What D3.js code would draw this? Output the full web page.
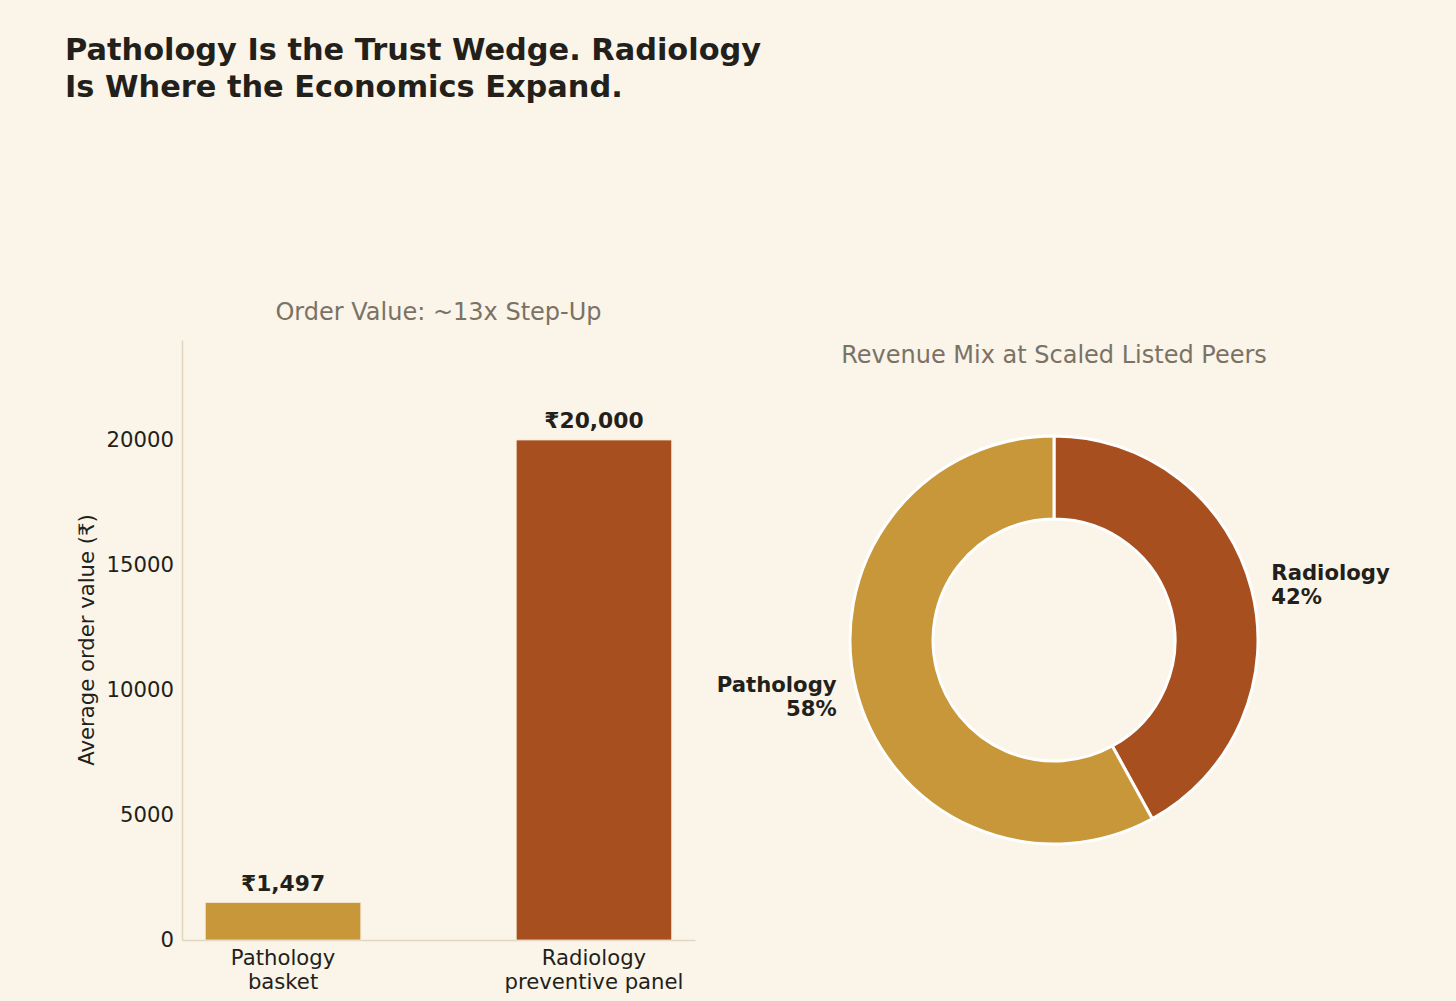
<!DOCTYPE html>
<html>
<head>
<meta charset="utf-8">
<script src="https://cdn.jsdelivr.net/npm/d3@7"></script>
<style>
  html, body { margin: 0; padding: 0; background: #faf4e9; }
  svg { display: block; font-family: "DejaVu Sans", sans-serif; }
</style>
</head>
<body>
<svg id="chart" width="1456" height="1001"></svg>
<script>
// bar chart data
var barCategories = ['Pathology\nbasket', 'Radiology\npreventive panel'];
var barValues = [1497, 20000];
var barLabels = ['₹1,497', '₹20,000'];
var yTicks = [0, 5000, 10000, 15000, 20000];

// donut data (drawn clockwise from 12 o'clock)
var mixNames = ['Radiology', 'Pathology'];
var mixShares = [42, 58];

var colors = ['#c8973a', '#a84f1f'];
var mixColors = ['#a84f1f', '#c8973a'];

var svg = d3.select('#chart');
var ink = '#231f1a';
var grey = '#7a7265';
var axisColor = '#e2d6c2';
var fs = 21.2;

// title
svg.append('text')
  .attr('x', 65).attr('y', 60)
  .attr('font-size', 30.4).attr('font-weight', 'bold').attr('fill', ink)
  .text('Pathology Is the Trust Wedge. Radiology');
svg.append('text')
  .attr('x', 65).attr('y', 97)
  .attr('font-size', 30.4).attr('font-weight', 'bold').attr('fill', ink)
  .text('Is Where the Economics Expand.');

// ---- bar chart ----
var plot = {l: 182, r: 695, t: 340, b: 940};

var x = d3.scaleBand()
  .domain(barCategories)
  .range([plot.l, plot.r])
  .paddingInner(0.5)
  .paddingOuter(0.075);

var y = d3.scaleLinear().domain([0, 24000]).range([plot.b, plot.t]);

svg.append('text')
  .attr('x', (plot.l + plot.r) / 2).attr('y', 320)
  .attr('text-anchor', 'middle')
  .attr('font-size', 24).attr('fill', grey)
  .text('Order Value: ~13x Step-Up');

var yAxis = svg.append('g')
  .attr('transform', 'translate(' + plot.l + ',0)')
  .call(d3.axisLeft(y).tickValues(yTicks).tickSize(0).tickPadding(8).tickFormat(d3.format('d')));
yAxis.select('.domain').attr('stroke', axisColor).attr('stroke-width', 1.5);
yAxis.selectAll('text').attr('font-size', fs).attr('fill', ink).attr('font-family', 'DejaVu Sans');

var xAxis = svg.append('g')
  .attr('transform', 'translate(0,' + plot.b + ')')
  .call(d3.axisBottom(x).tickSize(0).tickPadding(8).tickFormat(''));
xAxis.select('.domain').attr('stroke', axisColor).attr('stroke-width', 1.5);
xAxis.selectAll('.tick').each(function(d) {
  var t = d3.select(this).append('text')
    .attr('text-anchor', 'middle')
    .attr('font-size', fs).attr('fill', ink).attr('font-family', 'DejaVu Sans');
  d.split('\n').forEach(function(line, i) {
    t.append('tspan').attr('x', 0).attr('y', 25 + i * 24).text(line);
  });
});

svg.append('text')
  .attr('transform', 'translate(94,' + ((plot.t + plot.b) / 2) + ') rotate(-90)')
  .attr('text-anchor', 'middle')
  .attr('font-size', fs).attr('fill', ink)
  .text('Average order value (₹)');

svg.selectAll('rect.bar')
  .data(barValues)
  .enter().append('rect')
  .attr('class', 'bar')
  .attr('x', function(d, i) { return x(barCategories[i]); })
  .attr('width', x.bandwidth())
  .attr('y', function(d) { return y(d); })
  .attr('height', function(d) { return y(0) - y(d); })
  .attr('fill', function(d, i) { return colors[i]; })
  .attr('stroke', '#f3e6d2').attr('stroke-width', 0.8);

svg.selectAll('text.val')
  .data(barValues)
  .enter().append('text')
  .attr('class', 'val')
  .attr('x', function(d, i) { return x(barCategories[i]) + x.bandwidth() / 2; })
  .attr('y', function(d) { return y(d) - 12; })
  .attr('text-anchor', 'middle')
  .attr('font-size', 21.8).attr('font-weight', 'bold').attr('fill', ink)
  .text(function(d, i) { return barLabels[i]; });

// ---- donut ----
var cx = 1054, cy = 640, R = 204, r = 121;

svg.append('text')
  .attr('x', cx).attr('y', 363)
  .attr('text-anchor', 'middle')
  .attr('font-size', 24).attr('fill', grey)
  .text('Revenue Mix at Scaled Listed Peers');

var pie = d3.pie().sort(null).value(function(d) { return d; });
var arcs = pie(mixShares);
var arc = d3.arc().innerRadius(r).outerRadius(R);

var g = svg.append('g').attr('transform', 'translate(' + cx + ',' + cy + ')');

g.selectAll('path')
  .data(arcs)
  .enter().append('path')
  .attr('d', arc)
  .attr('fill', function(d, i) { return mixColors[i]; })
  .attr('stroke', '#ffffff').attr('stroke-width', 3);

arcs.forEach(function(a, i) {
  var mid = (a.startAngle + a.endAngle) / 2;
  var lx = Math.sin(mid) * R * 1.1;
  var ly = -Math.cos(mid) * R * 1.1;
  var right = lx > 0;
  var t = g.append('text')
    .attr('text-anchor', right ? 'start' : 'end')
    .attr('font-size', fs).attr('font-weight', 'bold').attr('fill', ink);
  t.append('tspan').attr('x', lx).attr('y', ly - 4).text(mixNames[i]);
  t.append('tspan').attr('x', lx).attr('y', ly + 20).text(mixShares[i] + '%');
});
</script>
</body>
</html>
